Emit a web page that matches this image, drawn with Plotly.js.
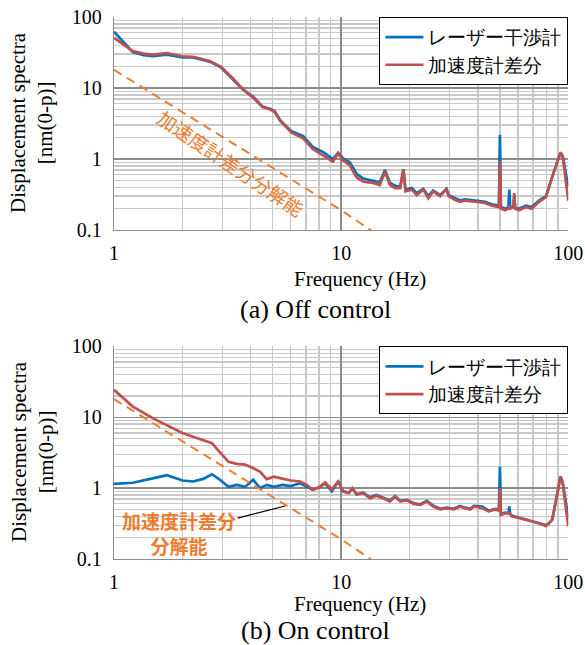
<!DOCTYPE html>
<html>
<head>
<meta charset="utf-8">
<script src="https://cdn.plot.ly/plotly-3.0.1.min.js"></script>
<style>html,body{margin:0;padding:0;background:#fff;}#chart{width:585px;height:645px;}</style>
</head>
<body>
<div id="chart"></div>
<script>
// ---- (a) Off control ----
const offFreq = [1, 1.1, 1.21, 1.35, 1.48, 1.71, 2.0, 2.23, 2.64, 2.95, 3.35, 3.7, 4.1, 4.5, 4.86, 5.1, 5.4, 6.05, 6.8, 7.5, 8.3, 9.2, 9.7, 10.2, 10.9, 11.7, 12.5, 13.8, 14.8, 15.6, 16.4, 17.3, 18.2, 18.8, 19.2, 20.5, 21.5, 23, 24.2, 25.4, 27.3, 29.1, 29.7, 31.8, 33.4, 35.1, 38.9, 43, 46, 49.5, 50, 50.5, 52.7, 54.5, 55, 55.5, 57.3, 57.8, 58.4, 60.6, 65.2, 69, 74.3, 79.7, 85, 89.5, 92.4, 94.5, 97.3, 100];
const offLaser = [62, 44, 32, 29, 28, 29.5, 27, 27, 23.5, 19.5, 13, 9.5, 7.5, 5.5, 5.1, 4.7, 3.5, 2.45, 2.1, 1.48, 1.26, 1.0, 1.22, 1.02, 0.9, 0.62, 0.53, 0.5, 0.47, 0.7, 0.46, 0.42, 0.41, 0.72, 0.37, 0.39, 0.33, 0.38, 0.3, 0.36, 0.31, 0.38, 0.31, 0.28, 0.26, 0.27, 0.26, 0.25, 0.23, 0.22, 2.2, 0.21, 0.2, 0.21, 0.37, 0.21, 0.21, 0.3, 0.2, 0.2, 0.22, 0.21, 0.26, 0.3, 0.56, 0.92, 1.24, 1.1, 0.65, 0.4];
const offAccel = [51, 41, 33, 30.5, 29.5, 31, 28, 27.5, 24, 20, 13.5, 9.5, 7.3, 5.4, 5.0, 4.6, 3.4, 2.35, 1.95, 1.38, 1.14, 0.92, 1.2, 0.95, 0.82, 0.55, 0.48, 0.46, 0.43, 0.66, 0.43, 0.39, 0.39, 0.72, 0.35, 0.37, 0.31, 0.37, 0.28, 0.35, 0.30, 0.38, 0.30, 0.265, 0.25, 0.26, 0.25, 0.24, 0.22, 0.21, 0.92, 0.2, 0.19, 0.2, 0.22, 0.2, 0.21, 0.33, 0.2, 0.19, 0.21, 0.2, 0.25, 0.29, 0.56, 0.92, 1.24, 1.08, 0.5, 0.26];

// ---- (b) On control ----
const onFreq = [1, 1.21, 1.48, 1.71, 2.0, 2.23, 2.47, 2.7, 2.93, 3.19, 3.47, 3.78, 4.1, 4.4, 4.7, 5.07, 5.5, 6.0, 6.6, 7.06, 7.5, 8.07, 8.5, 9.1, 9.7, 10.2, 10.8, 11.2, 11.7, 12.5, 13.4, 14.3, 15.3, 16.4, 17.3, 18.2, 19.5, 20.8, 22.3, 23.8, 25.5, 27.3, 29.2, 31.3, 33.4, 35, 37, 38.4, 41.8, 44.6, 47.7, 49.5, 50, 50.5, 52.7, 54.5, 55, 55.5, 56.3, 60.6, 65.2, 69, 74.3, 79.7, 81.5, 85, 87.7, 92.4, 94.5, 97.3, 100];
const onLaser = [1.15, 1.19, 1.37, 1.52, 1.28, 1.24, 1.35, 1.57, 1.31, 1.04, 1.11, 1.04, 1.31, 1.0, 1.11, 1.04, 1.11, 1.07, 1.17, 1.04, 0.95, 1.04, 1.17, 0.9, 1.24, 0.9, 0.86, 0.98, 0.82, 0.86, 0.74, 0.8, 0.73, 0.67, 0.77, 0.66, 0.68, 0.61, 0.59, 0.66, 0.56, 0.51, 0.53, 0.51, 0.56, 0.53, 0.51, 0.56, 0.55, 0.48, 0.51, 0.49, 2.0, 0.43, 0.45, 0.44, 0.55, 0.43, 0.41, 0.38, 0.36, 0.34, 0.32, 0.3, 0.31, 0.36, 0.6, 1.46, 1.2, 0.7, 0.38];
const onAccel = [24.3, 14.1, 9.7, 7.8, 6.0, 5.3, 4.7, 4.3, 3.2, 2.35, 2.2, 2.15, 1.91, 1.7, 1.34, 1.45, 1.36, 1.28, 1.24, 1.11, 0.95, 1.04, 1.2, 0.95, 1.24, 0.9, 0.85, 1.0, 0.81, 0.85, 0.72, 0.78, 0.72, 0.65, 0.76, 0.65, 0.67, 0.6, 0.58, 0.65, 0.55, 0.5, 0.52, 0.5, 0.55, 0.52, 0.5, 0.55, 0.52, 0.47, 0.5, 0.48, 1.0, 0.42, 0.44, 0.44, 0.45, 0.43, 0.4, 0.38, 0.36, 0.34, 0.32, 0.29, 0.31, 0.36, 0.6, 1.46, 1.17, 0.55, 0.29];

// accelerometer-difference resolution (dashed)
const resFreq = [1, 10, 14.6];
const resValue = [18, 0.19, 0.084];

// ticks and labels
const xTickVals = [1, 10, 100];
const xTickText = ['1', '10', '100'];
const yTickVals = [0.1, 1, 10, 100];
const yTickText = ['0.1', '1', '10', '100'];
const xMinorVals = [2, 3, 4, 5, 6, 7, 8, 9, 20, 30, 40, 50, 60, 70, 80, 90];
const yMinorVals = [0.2, 0.3, 0.4, 0.5, 0.6, 0.7, 0.8, 0.9, 2, 3, 4, 5, 6, 7, 8, 9, 20, 30, 40, 50, 60, 70, 80, 90];

const seriesNames = ['レーザー干渉計', '加速度計差分'];
const resLabel = '加速度計差分分解能';
const resLabelTwoLines = '加速度計差分<br>分解能';
const xTitle = 'Frequency (Hz)';
const yTitle = 'Displacement spectra<br>[nm(0-p)]';
const captions = ['(a) Off control', '(b) On control'];

const BLUE = '#0070c0', RED = '#c0504d', ORANGE = '#ed7d31';
const SERIF = 'Liberation Serif';
const CJK = 'Noto Sans CJK JP';
const MAJ = '#8c8c8c', MIN = '#c8c8c8';

function xAxis(anchor) {
  return {
    type: 'log', range: [0, 2], anchor: anchor,
    domain: [114 / 585, 568.3 / 585],
    tickmode: 'array', tickvals: xTickVals, ticktext: xTickText,
    ticks: '', ticklabelstandoff: 5,
    tickfont: {family: SERIF, size: 20, color: '#000'},
    showgrid: true, gridcolor: MAJ, gridwidth: 1.3,
    showline: true, linecolor: MAJ, linewidth: 1.3,
    minor: {tickmode: 'array', tickvals: xMinorVals, showgrid: true, gridcolor: MIN, gridwidth: 1.3, ticks: ''},
    zeroline: false, fixedrange: true
  };
}
function yAxis(anchor, dom) {
  return {
    type: 'log', range: [-1, 2], anchor: anchor, domain: dom,
    tickmode: 'array', tickvals: yTickVals, ticktext: yTickText,
    ticks: '', ticklabelstandoff: 7,
    tickfont: {family: SERIF, size: 20, color: '#000'},
    showgrid: true, gridcolor: MAJ, gridwidth: 1.3,
    showline: true, linecolor: MAJ, linewidth: 1.3,
    minor: {tickmode: 'array', tickvals: yMinorVals, showgrid: true, gridcolor: MIN, gridwidth: 1.3, ticks: ''},
    zeroline: false, fixedrange: true
  };
}

const dash = '9px,6px';
const traces = [
  {x: offFreq, y: offLaser, name: seriesNames[0], xaxis: 'x', yaxis: 'y', mode: 'lines', line: {color: BLUE, width: 2.7}, legend: 'legend'},
  {x: offFreq, y: offAccel, name: seriesNames[1], xaxis: 'x', yaxis: 'y', mode: 'lines', line: {color: RED, width: 2.7}, legend: 'legend'},
  {x: resFreq, y: resValue, name: resLabel, xaxis: 'x', yaxis: 'y', mode: 'lines', line: {color: ORANGE, width: 2, dash: dash}, showlegend: false},
  {x: onFreq, y: onLaser, name: seriesNames[0], xaxis: 'x2', yaxis: 'y2', mode: 'lines', line: {color: BLUE, width: 2.7}, legend: 'legend2'},
  {x: onFreq, y: onAccel, name: seriesNames[1], xaxis: 'x2', yaxis: 'y2', mode: 'lines', line: {color: RED, width: 2.7}, legend: 'legend2'},
  {x: resFreq, y: resValue, name: resLabel, xaxis: 'x2', yaxis: 'y2', mode: 'lines', line: {color: ORANGE, width: 2, dash: dash}, showlegend: false}
];

const topDom = [(645 - 230) / 645, (645 - 17) / 645];
const botDom = [(645 - 559) / 645, (645 - 346.3) / 645];
const P = (px, py) => ({x: px / 585, y: (645 - py) / 645});

function legendCfg(yTop) {
  return {
    x: 568.3 / 585, xanchor: 'right', y: yTop, yanchor: 'top',
    bgcolor: '#fff', bordercolor: '#000', borderwidth: 1.2,
    font: {family: SERIF, size: 19, color: '#000'},
    itemwidth: 38, tracegroupgap: 0
  };
}

const ann = [];
function txt(px, py, text, size, extra) {
  const p = P(px, py);
  ann.push(Object.assign({xref: 'paper', yref: 'paper', x: p.x, y: p.y, text: text, showarrow: false,
    xanchor: 'center', yanchor: 'middle', font: {family: SERIF, size: size, color: '#000'}}, extra || {}));
}
// top
txt(360, 279, xTitle, 21);
txt(315, 309, captions[0], 26);
txt(32, 123, yTitle, 21, {textangle: -90});
txt(231, 162, resLabel, 19, {textangle: 34, font: {family: CJK, size: 19, color: ORANGE}});
// bottom
txt(360, 604, xTitle, 21);
txt(315, 630, captions[1], 26);
txt(32, 452, yTitle, 21, {textangle: -90});
ann.push({xref: 'x2', yref: 'y2', x: Math.log10(5.67), y: Math.log10(18 / 5.67 / 5.67),
  text: resLabelTwoLines, showarrow: true, arrowhead: 0, arrowwidth: 1.2, arrowcolor: '#000',
  ax: -106, ay: 27, standoff: 0, font: {family: CJK, size: 19, color: ORANGE, weight: 'bold'}});

const layout = {
  width: 585, height: 645,
  margin: {l: 0, r: 0, t: 0, b: 0},
  font: {family: SERIF, color: '#000'},
  paper_bgcolor: '#fff', plot_bgcolor: '#fff',
  xaxis: xAxis('y'), yaxis: yAxis('x', topDom),
  xaxis2: xAxis('y2'), yaxis2: yAxis('x2', botDom),
  legend: legendCfg(topDom[1]),
  legend2: legendCfg(botDom[1]),
  annotations: ann,
  showlegend: true
};

Plotly.newPlot('chart', traces, layout, {displayModeBar: false, staticPlot: true});
</script>
</body>
</html>
